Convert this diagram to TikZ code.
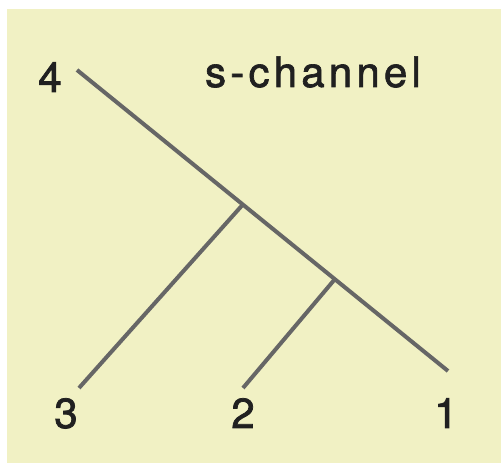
\documentclass[tikz,border=0pt]{standalone}
\usepackage{fontspec}
\setmainfont[FakeBold=1.8]{TeX Gyre Heros}
\newfontfamily\tagfont[LetterSpace=10,FakeBold=1.6]{TeX Gyre Heros}
\usepackage{xcolor}
\usepackage{tikz}
\usetikzlibrary{calc}
\definecolor{paleback}{HTML}{F1F1C4}
\definecolor{legline}{HTML}{666666}
\definecolor{labink}{HTML}{202020}

\begin{document}
\begin{tikzpicture}[
    x=1pt, y=1pt,
    leg/.style={draw=legline, line width=4pt},
    lab/.style={text=labink, font=\fontsize{42}{45}\selectfont, anchor=base, inner sep=0pt}
]
\fill[paleback] (7,0) rectangle (501,454);
\useasboundingbox (0,0) rectangle (501,463);
% external legs
\coordinate (p4) at (77,393);
\coordinate (p1) at (448,92);
\coordinate (p3) at (79,75);
\coordinate (p2) at (243,75);
% vertices on the long leg
\coordinate (v1) at ($(p4)!0.447!(p1)$);
\coordinate (v2) at ($(p4)!0.695!(p1)$);
\draw[leg] (p4) -- (p1);
\draw[leg] (v1) -- (p3);
\draw[leg] (v2) -- (p2);
% labels
\node[lab] (l4) at (50,371) {4};
\node[lab] (l3) at (66,35) {3};
\node[lab] (l2) at (243,35) {2};
\node[lab] (l1) at (446,35) {1};
\node[lab] (title) at (313,376) {\tagfont s-channel};
\end{tikzpicture}
\end{document}
